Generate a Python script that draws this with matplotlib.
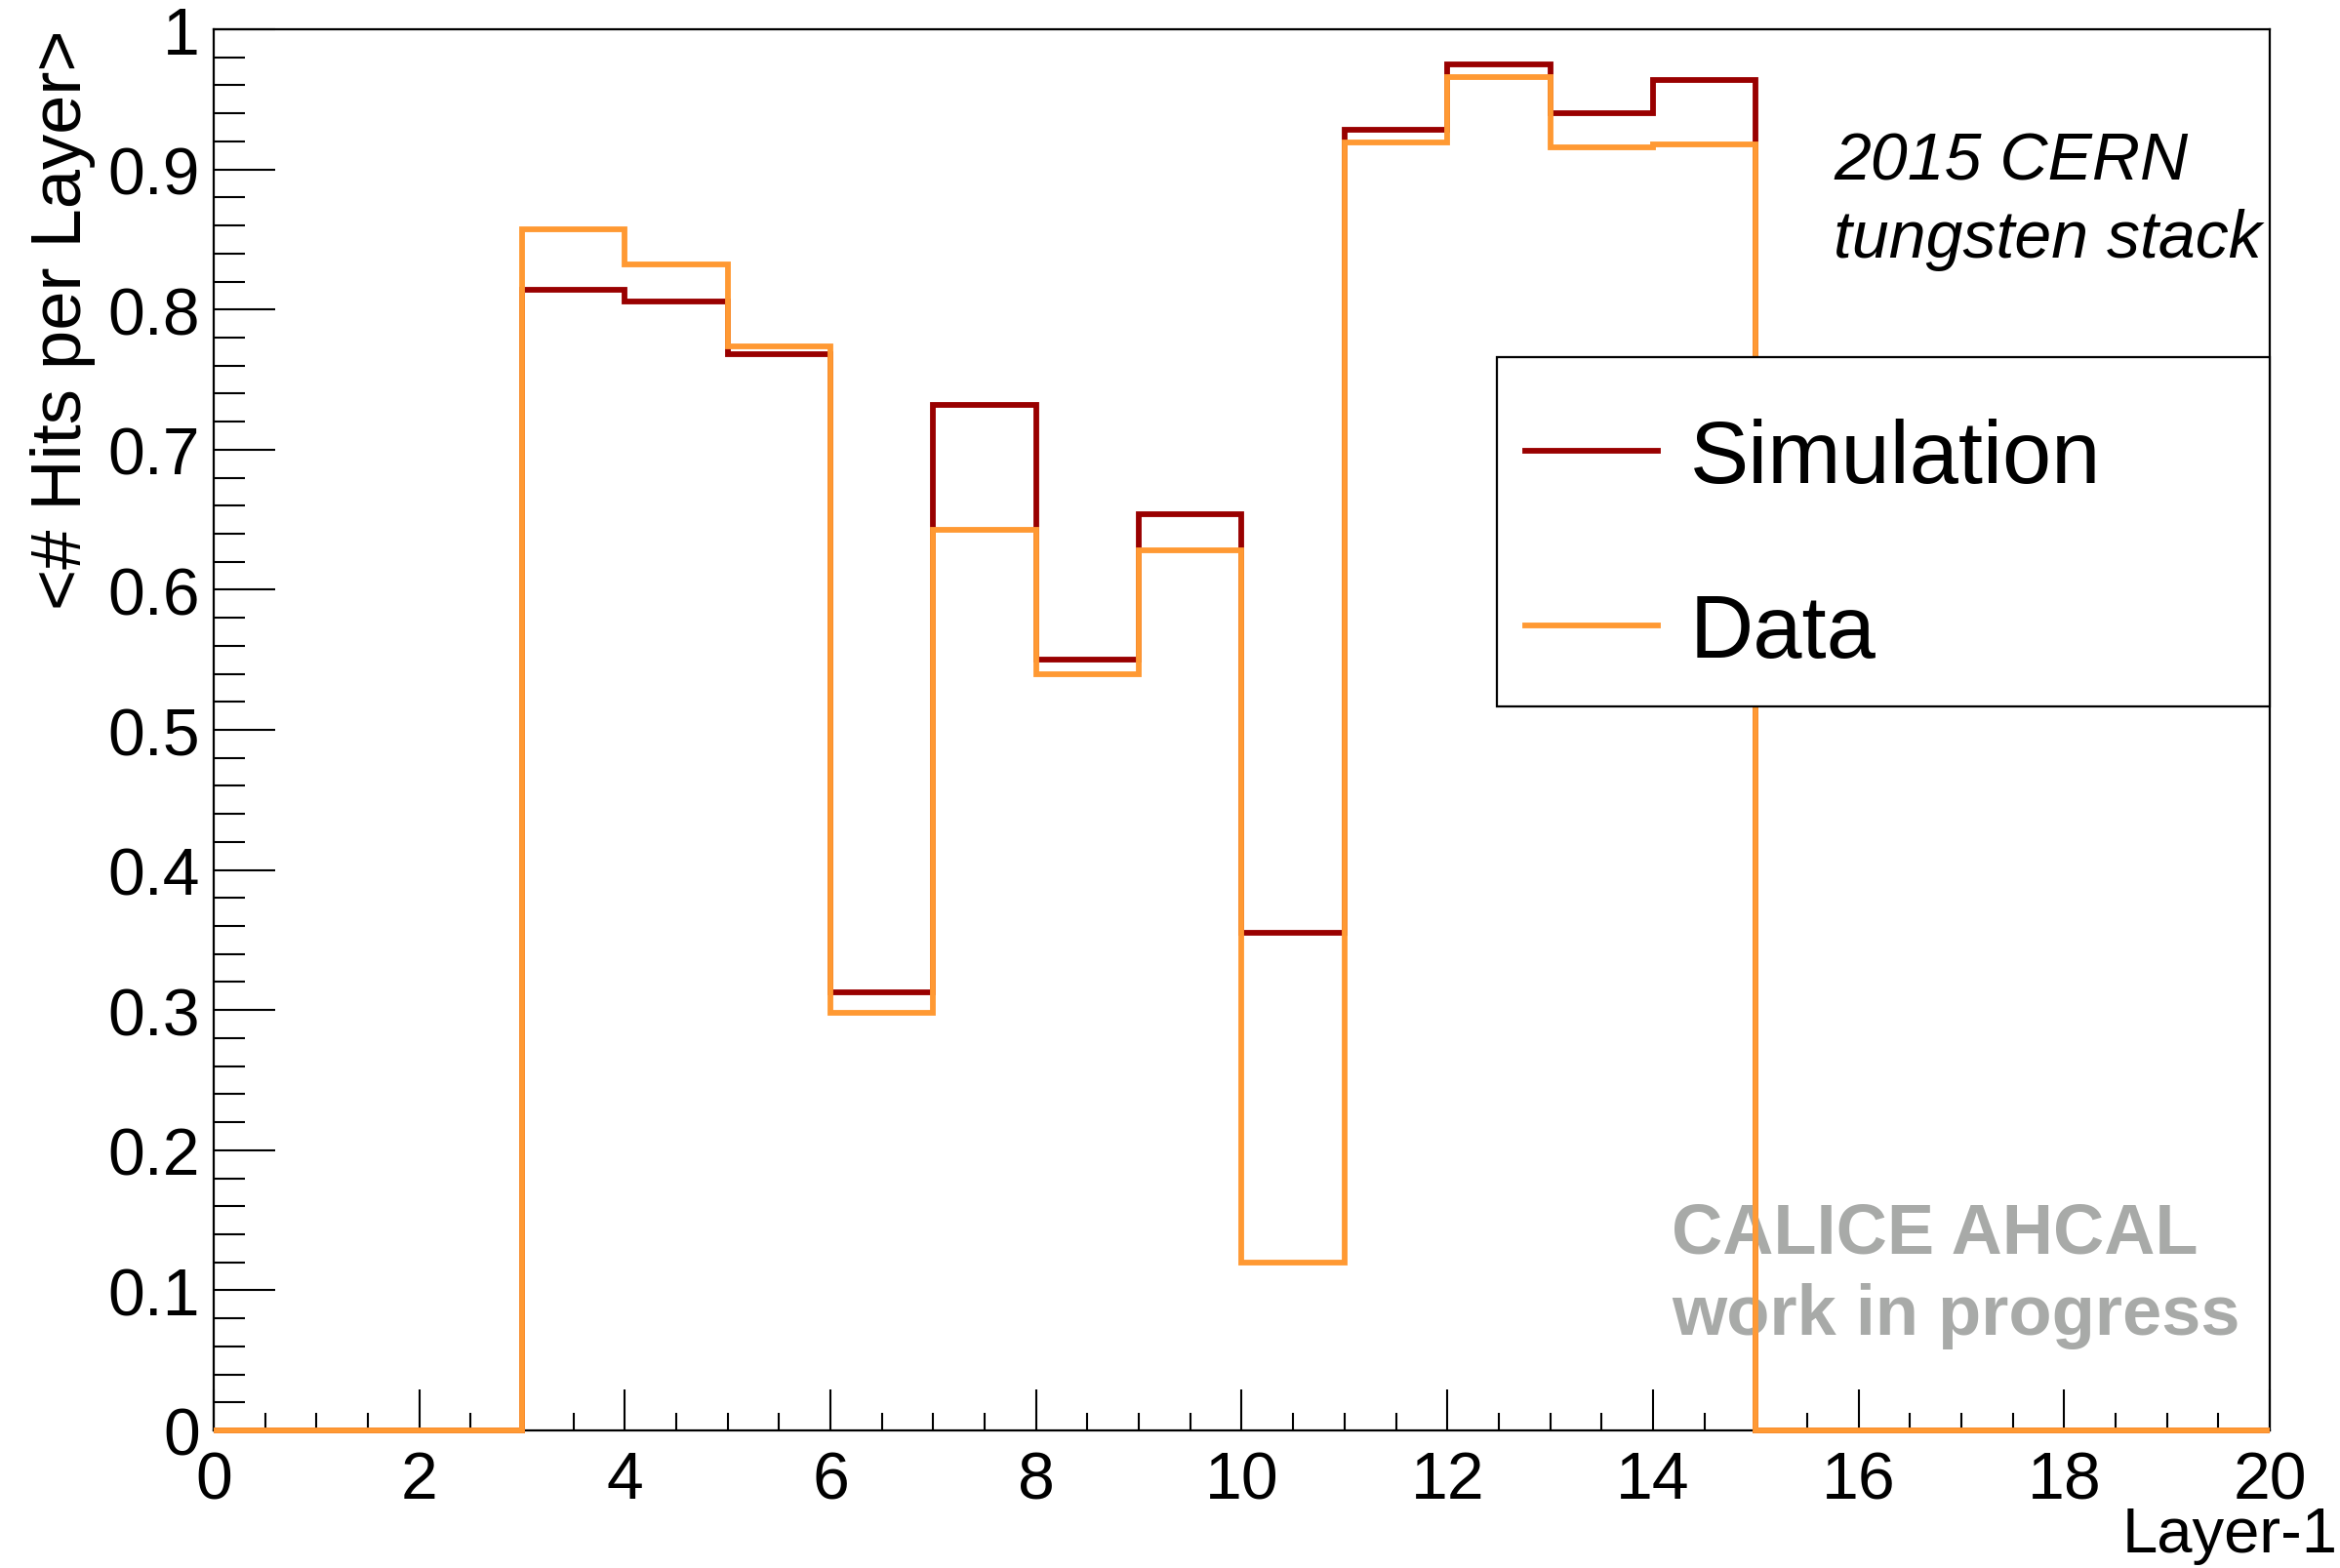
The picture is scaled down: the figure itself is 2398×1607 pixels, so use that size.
import numpy as np
import matplotlib.pyplot as plt
from matplotlib.ticker import MultipleLocator, FixedLocator
from matplotlib.patches import Rectangle

plt.rcParams['font.family'] = ['Liberation Sans', 'DejaVu Sans']

# layer bins 0..20, one value per bin
edges = np.arange(0, 21, 1)
simulation = [0, 0, 0, 0.814, 0.806, 0.768, 0.313, 0.732, 0.550, 0.654,
              0.355, 0.928, 0.975, 0.940, 0.964, 0, 0, 0, 0, 0]
data = [0, 0, 0, 0.857, 0.832, 0.774, 0.298, 0.643, 0.540, 0.628,
        0.120, 0.919, 0.966, 0.916, 0.918, 0, 0, 0, 0, 0]

xticks = np.arange(0, 21, 2)
yticks = np.round(np.arange(0, 1.01, 0.1), 1)
ytick_labels = ['0'] + ['%.1f' % v for v in yticks[1:-1]] + ['1']

sim_color = '#990000'
data_color = '#ff9933'

fig = plt.figure(figsize=(23.98, 16.08), dpi=100)
ax = fig.add_axes([0.0913, 0.0877, 0.8787, 0.893])

ax.stairs(simulation, edges, color=sim_color, lw=4.2, baseline=0,
          clip_on=False, zorder=3, label='Simulation')
ax.stairs(data, edges, color=data_color, lw=4.2, baseline=0,
          clip_on=False, zorder=4, label='Data')

ax.set_xlim(0, 20)
ax.set_ylim(0, 1)

ax.xaxis.set_major_locator(FixedLocator(xticks))
ax.xaxis.set_minor_locator(MultipleLocator(0.5))
ax.yaxis.set_major_locator(FixedLocator(yticks))
ax.yaxis.set_minor_locator(MultipleLocator(0.02))
ax.set_yticklabels(ytick_labels)
ax.set_xticklabels([str(v) for v in xticks])

ax.tick_params(which='both', direction='in', top=False, right=False,
               width=1.5, labelsize=49)
ax.tick_params(axis='y', which='major', length=45, pad=10)
ax.tick_params(axis='y', which='minor', length=23)
ax.tick_params(axis='x', which='major', length=30, pad=14)
ax.tick_params(axis='x', which='minor', length=13)
for s in ax.spines.values():
    s.set_linewidth(1.6)

fig.text(0.0268, 0.981, '<# Hits per Layer>', fontsize=52, rotation=90,
         ha='center', va='top')
fig.text(0.999, 0.0106, 'Layer-1', fontsize=47, ha='right', va='baseline')

# legend box (ROOT TLegend style), entries placed inside it
box = Rectangle((0.624, 0.517), 0.376, 0.249, transform=ax.transAxes,
                facecolor='white', edgecolor='black', lw=1.6, zorder=5,
                clip_on=False)
ax.add_patch(box)
leg = ax.legend(loc='upper left', bbox_to_anchor=(0.638, 0.723),
                fontsize=65, frameon=False, borderpad=0, labelspacing=1.04,
                handlelength=1.5, handletextpad=0.37, borderaxespad=0)
leg.set_zorder(6)
for line in leg.get_lines():
    line.set_linewidth(4.2)

ax.text(0.788, 0.906, '2015 CERN', transform=ax.transAxes, fontsize=49,
        style='italic', va='center')
ax.text(0.788, 0.850, 'tungsten stack', transform=ax.transAxes, fontsize=49,
        style='italic', va='center')
ax.text(0.709, 0.140, 'CALICE AHCAL', transform=ax.transAxes, fontsize=52,
        fontweight='bold', color='#a8aaa8', va='center')
ax.text(0.709, 0.082, 'work in progress', transform=ax.transAxes, fontsize=52,
        fontweight='bold', color='#a8aaa8', va='center')

fig.savefig('out.png', dpi=100)
